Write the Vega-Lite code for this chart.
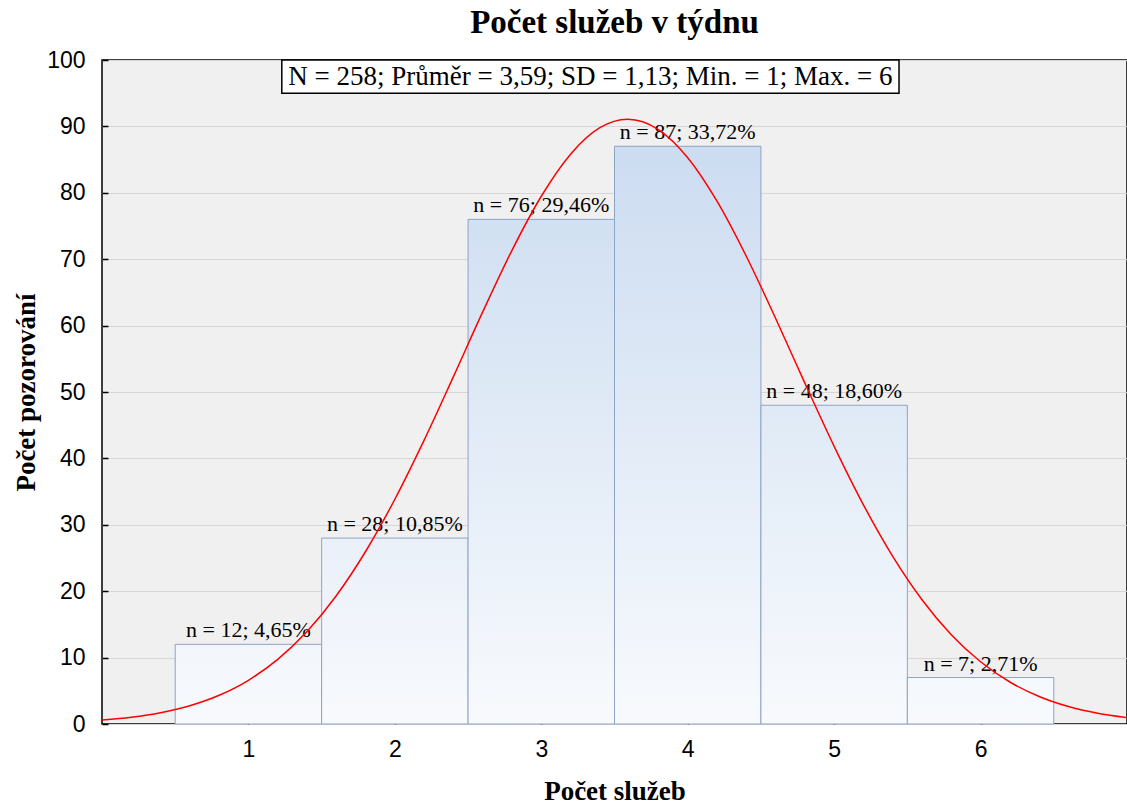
{
  "$schema": "https://vega.github.io/schema/vega-lite/v6.json",
  "autosize": {"type": "none"},
  "padding": {"left": 102, "top": 60, "right": 0, "bottom": 83},
  "width": 1025,
  "height": 664,
  "background": "#ffffff",
  "title": {
    "text": "Počet služeb v týdnu",
    "font": "Liberation Serif",
    "fontSize": 33,
    "fontWeight": "bold",
    "color": "#000000",
    "anchor": "middle",
    "offset": 9
  },
  "config": {
    "view": {"fill": "#f0f0f0", "stroke": "#000000", "strokeWidth": 1.5},
    "axis": {
      "labelFont": "Liberation Sans",
      "labelFontSize": 23,
      "labelColor": "#000000",
      "titleFont": "Liberation Serif",
      "titleFontSize": 27,
      "titleFontWeight": "bold",
      "titleColor": "#000000",
      "tickColor": "#000000",
      "tickWidth": 1.5,
      "domain": false,
      "gridColor": "#d6d6d6",
      "gridWidth": 1.2
    }
  },
  "layer": [
    {
      "data": {
        "values": [
          {"k": 1, "bin_start": 0.5, "bin_end": 1.5, "n": 12, "label": "n = 12; 4,65%"},
          {"k": 2, "bin_start": 1.5, "bin_end": 2.5, "n": 28, "label": "n = 28; 10,85%"},
          {"k": 3, "bin_start": 2.5, "bin_end": 3.5, "n": 76, "label": "n = 76; 29,46%"},
          {"k": 4, "bin_start": 3.5, "bin_end": 4.5, "n": 87, "label": "n = 87; 33,72%"},
          {"k": 5, "bin_start": 4.5, "bin_end": 5.5, "n": 48, "label": "n = 48; 18,60%"},
          {"k": 6, "bin_start": 5.5, "bin_end": 6.5, "n": 7, "label": "n = 7; 2,71%"}
        ]
      },
      "layer": [
        {
          "mark": {"type": "rect", "stroke": "#8ea4c4", "strokeWidth": 1},
          "encoding": {
            "x": {
              "field": "bin_start",
              "type": "quantitative",
              "scale": {"domain": [0, 7], "nice": false, "zero": false},
              "axis": {
                "values": [1, 2, 3, 4, 5, 6],
                "format": "d",
                "grid": false,
                "tickSize": -6,
                "labelPadding": 20,
                "title": "Počet služeb",
                "titlePadding": 17
              }
            },
            "x2": {"field": "bin_end"},
            "y": {
              "field": "n",
              "type": "quantitative",
              "scale": {"domain": [0, 100], "nice": false},
              "axis": {
                "values": [0, 10, 20, 30, 40, 50, 60, 70, 80, 90, 100],
                "tickSize": -6,
                "labelPadding": 23,
                "title": "Počet pozorování",
                "titlePadding": 6
              }
            },
            "y2": {"datum": 0},
            "fill": {
              "condition": [
                {"test": "datum.n == 12", "value": {"gradient": "linear", "x1": 0, "y1": 1, "x2": 0, "y2": 0, "stops": [{"offset": 0, "color": "#f8fafd"}, {"offset": 1, "color": "#f2f6fb"}]}},
                {"test": "datum.n == 28", "value": {"gradient": "linear", "x1": 0, "y1": 1, "x2": 0, "y2": 0, "stops": [{"offset": 0, "color": "#f8fafd"}, {"offset": 1, "color": "#eaf0f9"}]}},
                {"test": "datum.n == 76", "value": {"gradient": "linear", "x1": 0, "y1": 1, "x2": 0, "y2": 0, "stops": [{"offset": 0, "color": "#f8fafd"}, {"offset": 1, "color": "#d1e0f2"}]}},
                {"test": "datum.n == 87", "value": {"gradient": "linear", "x1": 0, "y1": 1, "x2": 0, "y2": 0, "stops": [{"offset": 0, "color": "#f8fafd"}, {"offset": 1, "color": "#ccdcf1"}]}},
                {"test": "datum.n == 48", "value": {"gradient": "linear", "x1": 0, "y1": 1, "x2": 0, "y2": 0, "stops": [{"offset": 0, "color": "#f8fafd"}, {"offset": 1, "color": "#dfeaf6"}]}}
              ],
              "value": {"gradient": "linear", "x1": 0, "y1": 1, "x2": 0, "y2": 0, "stops": [{"offset": 0, "color": "#f8fafd"}, {"offset": 1, "color": "#f4f8fc"}]}
            }
          }
        },
        {
          "mark": {"type": "text", "font": "Liberation Serif", "fontSize": 22, "color": "#000000", "baseline": "alphabetic", "align": "center", "dy": -7},
          "encoding": {
            "x": {"field": "k", "type": "quantitative"},
            "y": {"field": "n", "type": "quantitative"},
            "text": {"field": "label"}
          }
        }
      ]
    },
    {
      "data": {
        "values": [
          {"x": 0.0, "y": 0.586}, {"x": 0.2, "y": 1.012}, {"x": 0.4, "y": 1.695}, {"x": 0.6, "y": 2.749},
          {"x": 0.8, "y": 4.322}, {"x": 1.0, "y": 6.586}, {"x": 1.2, "y": 9.727}, {"x": 1.4, "y": 13.928},
          {"x": 1.6, "y": 19.32}, {"x": 1.8, "y": 25.98}, {"x": 2.0, "y": 33.85}, {"x": 2.2, "y": 42.75},
          {"x": 2.4, "y": 52.32}, {"x": 2.6, "y": 62.06}, {"x": 2.8, "y": 71.34}, {"x": 3.0, "y": 79.48},
          {"x": 3.2, "y": 85.82}, {"x": 3.4, "y": 89.81}, {"x": 3.59, "y": 91.09}, {"x": 3.8, "y": 89.53},
          {"x": 4.0, "y": 85.29}, {"x": 4.2, "y": 78.74}, {"x": 4.4, "y": 70.45}, {"x": 4.6, "y": 61.10},
          {"x": 4.8, "y": 51.34}, {"x": 5.0, "y": 41.82}, {"x": 5.2, "y": 33.01}, {"x": 5.4, "y": 25.25},
          {"x": 5.6, "y": 18.72}, {"x": 5.8, "y": 13.45}, {"x": 6.0, "y": 9.369}, {"x": 6.2, "y": 6.323},
          {"x": 6.4, "y": 4.136}, {"x": 6.6, "y": 2.622}, {"x": 6.8, "y": 1.612}, {"x": 7.0, "y": 0.959}
        ]
      },
      "mark": {"type": "line", "color": "#ff0000", "strokeWidth": 1.5, "interpolate": "monotone", "clip": true},
      "encoding": {
        "x": {"field": "x", "type": "quantitative"},
        "y": {"field": "y", "type": "quantitative"}
      }
    },
    {
      "data": {"values": [{"text": "N = 258; Průměr = 3,59; SD = 1,13; Min. = 1; Max. = 6"}]},
      "layer": [
        {
          "mark": {"type": "rect", "fill": "#ffffff", "stroke": "#000000", "strokeWidth": 1.5},
          "encoding": {
            "x": {"datum": 1.228, "type": "quantitative"},
            "x2": {"datum": 5.443},
            "y": {"datum": 95.0, "type": "quantitative"},
            "y2": {"datum": 100}
          }
        },
        {
          "mark": {"type": "text", "font": "Liberation Serif", "fontSize": 27, "color": "#000000", "baseline": "middle", "align": "center"},
          "encoding": {
            "x": {"datum": 3.3355, "type": "quantitative"},
            "y": {"datum": 97.5, "type": "quantitative"},
            "text": {"field": "text"}
          }
        }
      ]
    }
  ]
}
